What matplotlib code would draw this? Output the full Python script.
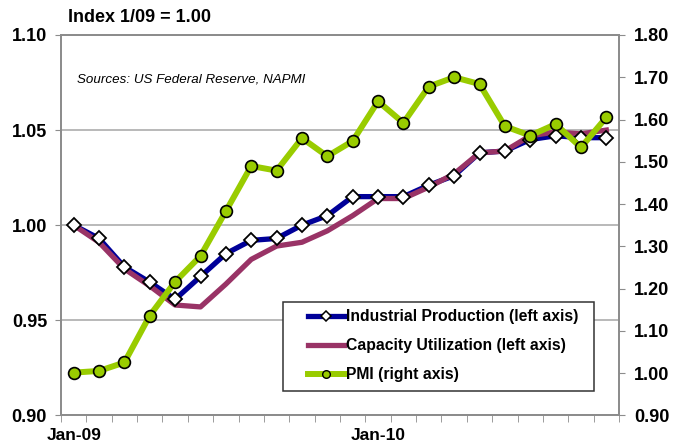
import numpy as np
import matplotlib.pyplot as plt
from matplotlib.lines import Line2D
from matplotlib.patches import Rectangle

plt.rcParams['font.family'] = ['Liberation Sans', 'DejaVu Sans']

# monthly data, Jan-09 .. Oct-10 (index 1/09 = 1.00)
months = ['Jan-09', 'Feb-09', 'Mar-09', 'Apr-09', 'May-09', 'Jun-09', 'Jul-09', 'Aug-09',
          'Sep-09', 'Oct-09', 'Nov-09', 'Dec-09', 'Jan-10', 'Feb-10', 'Mar-10', 'Apr-10',
          'May-10', 'Jun-10', 'Jul-10', 'Aug-10', 'Sep-10', 'Oct-10']
ind_prod = [1.000, 0.993, 0.978, 0.970, 0.961, 0.973, 0.985, 0.992, 0.993, 1.000, 1.005,
            1.015, 1.015, 1.015, 1.021, 1.026, 1.038, 1.039, 1.045, 1.047, 1.046, 1.046]
cap_util = [1.000, 0.991, 0.977, 0.968, 0.958, 0.957, 0.969, 0.982, 0.989, 0.991, 0.997,
            1.005, 1.014, 1.014, 1.020, 1.027, 1.038, 1.039, 1.047, 1.049, 1.048, 1.050]
pmi = [1.001, 1.005, 1.025, 1.136, 1.216, 1.277, 1.383, 1.490, 1.479, 1.556, 1.513,
       1.549, 1.643, 1.592, 1.678, 1.700, 1.684, 1.584, 1.562, 1.589, 1.534, 1.605]

blue = '#000099'
purple = '#993366'
green = '#99cc00'
grey = '#8c8c8c'

x = np.arange(len(months))

fig = plt.figure(figsize=(6.74, 4.43), dpi=100)
ax = fig.add_axes([61/674, 27.7/443, 558/674, 380.3/443])
ax2 = ax.twinx()

# left axis series
ax.plot(x, ind_prod, color=blue, lw=3.8, solid_joinstyle='round', zorder=2)
ax.plot(x, cap_util, color=purple, lw=3.8, solid_joinstyle='round', zorder=3)
ax.plot(x, ind_prod, ls='none', marker='D', ms=7.5, mfc='white', mec='black', mew=1.3, zorder=4)

# right axis
ax2.plot(x, pmi, color=green, lw=4.3, solid_joinstyle='round', marker='o', ms=8.5,
         mfc=green, mec='black', mew=1.2, zorder=3)

ax.set_xlim(-0.5, len(months) - 0.5)
ax.set_ylim(0.90, 1.10)
ax2.set_ylim(0.90, 1.80)
ax.set_yticks(np.arange(0.90, 1.101, 0.05))
ax.set_yticklabels(['%.2f' % v for v in np.arange(0.90, 1.101, 0.05)])
ax2.set_yticks(np.arange(0.90, 1.801, 0.10))
ax2.set_yticklabels(['%.2f' % v for v in np.arange(0.90, 1.801, 0.10)])

jan = [i for i, m in enumerate(months) if m.startswith('Jan')]
ax.set_xticks(jan)
ax.set_xticklabels([months[i] for i in jan])
ax.set_xticks(np.arange(-0.5, len(months), 1.0), minor=True)
ax.tick_params(axis='x', which='major', length=0, pad=9, labelsize=12.5)
ax.tick_params(axis='x', which='minor', length=5, color=grey, direction='out')
ax.tick_params(axis='y', length=4, color=grey, pad=6, labelsize=13)
ax2.tick_params(axis='y', length=4, color=grey, pad=7, labelsize=13)
for lab in ax.get_xticklabels() + ax.get_yticklabels() + ax2.get_yticklabels():
    lab.set_fontweight('bold')

ax.yaxis.grid(True, color='#a6a6a6', lw=1.1)
ax.set_axisbelow(True)
for a in (ax, ax2):
    for s in a.spines.values():
        s.set_color(grey)
        s.set_linewidth(1.3)

fig.text(68/674, 1 - 18/443, 'Index 1/09 = 1.00', fontsize=13, fontweight='bold',
         ha='left', va='center')
ax.text(77/674, 1 - 80/443, 'Sources: US Federal Reserve, NAPMI', fontsize=9.6,
        style='italic', ha='left', va='center', transform=fig.transFigure)

# legend box
box = Rectangle((283/674, 1 - 391/443), 311/674, 89/443, transform=fig.transFigure,
                facecolor='white', edgecolor='#333333', lw=1.1, zorder=5, clip_on=False)
ax2.add_patch(box)
handles = [
    Line2D([], [], color=blue, lw=3.8, marker='D', ms=5, mfc='white', mec='black', mew=1.1),
    Line2D([], [], color=purple, lw=3.8),
    Line2D([], [], color=green, lw=4.3, marker='o', ms=5.5, mfc=green, mec='black', mew=1.0),
]
leg = ax2.legend(handles, ['Industrial Production (left axis)', 'Capacity Utilization (left axis)',
                           'PMI (right axis)'],
                 loc='upper left', bbox_to_anchor=(308/674, 1 - 309/443),
                 bbox_transform=fig.transFigure, frameon=False, borderpad=0, borderaxespad=0,
                 handlelength=2.3, handletextpad=0.1, labelspacing=0.9,
                 prop={'size': 11.3, 'weight': 'bold'})
leg.set_zorder(6)

fig.savefig('out.png', dpi=100)
